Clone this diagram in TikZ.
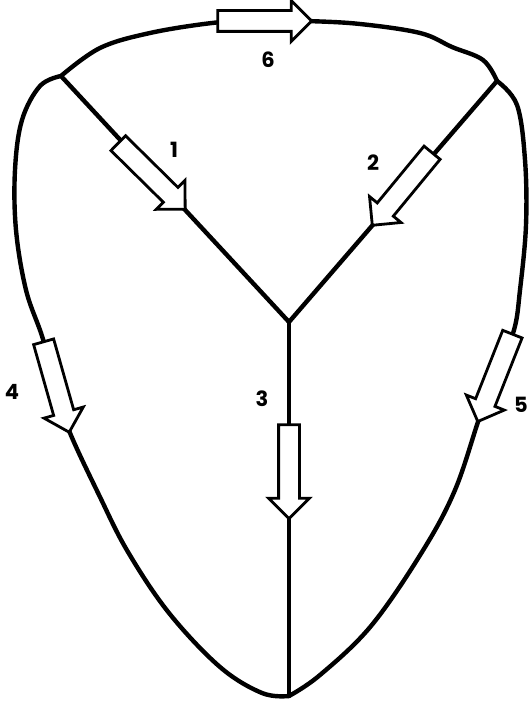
\documentclass[tikz,border=0pt]{standalone}
\usepackage{fontspec}
\setmainfont{Poppins}
\usetikzlibrary{shapes.arrows}
\begin{document}
\begin{tikzpicture}[x=1pt,y=-1pt,
  edge/.style={line width=4.4pt, line cap=round, line join=round},
  blockarr/.style={single arrow, draw, fill=white, line width=2.8pt,
    text height=0pt, text depth=0pt, inner xsep=0pt, inner ysep=9pt,
    single arrow head extend=10pt, single arrow tip angle=90, minimum height=94pt},
  lab/.style={font=\fontsize{21}{21}\selectfont\bfseries, inner sep=0pt}]
\useasboundingbox (0,0) rectangle (529,703);
\coordinate (A) at (61,76);
\coordinate (B) at (497,81);
\coordinate (C) at (289,322);
\coordinate (D) at (289,696);
% top arc
\draw[edge] plot[smooth, tension=0.6] coordinates {(61,76) (100,48) (150,33) (212,23) (260,20) (307,21) (360,24) (420,33) (452,47) (483,60) (497,81)};
% left curve
\draw[edge] plot[smooth, tension=0.6] coordinates {(61,76) (40,86) (22,120) (15,170) (16,230) (26,290) (42,336) (55,382) (68,428) (100,497) (128,552) (169,613) (220,667) (262,693) (289,696)};
% right curve
\draw[edge] plot[smooth, tension=0.6] coordinates {(497,81) (517,105) (525,160) (526,225) (520,290) (514,330) (497,373) (480,416) (455,490) (422,552) (371,626) (320,675) (289,696)};
\draw[edge] (A) -- (C);
\draw[edge] (B) -- (C);
\draw[edge, line cap=butt] (C) -- (D);
% block arrows
\node[blockarr, rotate=-44.6] (a1) at (148,172.5) {};
\node[blockarr, rotate=-129.5] (a2) at (405.5,185) {};
\node[blockarr, rotate=-90] (a3) at (289,466.5) {};
\node[blockarr, rotate=-74.2] (a4) at (55,382) {};
\node[blockarr, rotate=-111.6] (a5) at (497,373) {};
\node[blockarr, rotate=0] (a6) at (259.5,21) {};
% labels
\node[lab] (l1) at (174,150) {1};
\node[lab] (l2) at (373,163) {2};
\node[lab] (l3) at (262,399) {3};
\node[lab] (l4) at (12,392) {4};
\node[lab] (l5) at (521,405) {5};
\node[lab] (l6) at (268,60) {6};
\end{tikzpicture}
\end{document}
